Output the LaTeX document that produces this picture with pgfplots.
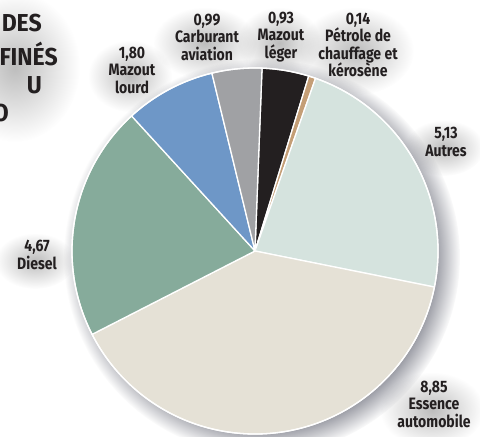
\documentclass[border=0pt]{standalone}
\usepackage{pgfplots}
\pgfplotsset{compat=1.18}
\usepackage{pgfplotstable}
\usetikzlibrary{fadings}
\usepackage{fontspec}
\setmainfont{Fira Sans}[FakeStretch=0.85]
\newfontfamily\titlefont{Fira Sans}[FakeStretch=0.94]

\definecolor{txt}{RGB}{35,31,32}
\definecolor{cleger}{RGB}{35,31,32}
\definecolor{cpetrole}{RGB}{196,158,118}
\definecolor{cautres}{RGB}{213,227,222}
\definecolor{cessence}{RGB}{229,225,214}
\definecolor{cdiesel}{RGB}{134,171,155}
\definecolor{clourd}{RGB}{110,151,199}
\definecolor{caviation}{RGB}{160,161,164}
\definecolor{shd}{RGB}{112,114,126}

\pgfdeclareradialshading{pieF}{\pgfpoint{0bp}{0bp}}{color(0bp)=(pgftransparent!0); color(20.5bp)=(pgftransparent!0); color(25bp)=(pgftransparent!100); color(50bp)=(pgftransparent!100)}
\pgfdeclarefading{pief}{\pgfuseshading{pieF}}
\tikzfading[name=glowf, inner color=transparent!74, outer color=transparent!100]

\pgfplotstableread{
value
0.93
0.14
5.13
8.85
4.67
1.80
0.99
}\pietable

\pgfplotstablegetelem{0}{value}\of\pietable\let\vA\pgfplotsretval
\pgfplotstablegetelem{1}{value}\of\pietable\let\vB\pgfplotsretval
\pgfplotstablegetelem{2}{value}\of\pietable\let\vC\pgfplotsretval
\pgfplotstablegetelem{3}{value}\of\pietable\let\vD\pgfplotsretval
\pgfplotstablegetelem{4}{value}\of\pietable\let\vE\pgfplotsretval
\pgfplotstablegetelem{5}{value}\of\pietable\let\vF\pgfplotsretval
\pgfplotstablegetelem{6}{value}\of\pietable\let\vG\pgfplotsretval
\pgfmathsetmacro\total{\vA+\vB+\vC+\vD+\vE+\vF+\vG}
\pgfmathsetmacro\aA{87.8}
\pgfmathsetmacro\aB{\aA-\vA/\total*360}
\pgfmathsetmacro\aC{\aB-\vB/\total*360}
\pgfmathsetmacro\aD{\aC-\vC/\total*360}
\pgfmathsetmacro\aE{\aD-\vD/\total*360}
\pgfmathsetmacro\aF{\aE-\vE/\total*360}
\pgfmathsetmacro\aG{\aF-\vF/\total*360}
\pgfmathsetmacro\aH{\aG-\vG/\total*360}

\newcommand\slice[3]{\fill[#3, draw=white, line width=1.3pt, line join=round] (axis cs:255,186) -- ++(#1:183pt) arc[start angle=#1, end angle=#2, radius=183pt] -- cycle;}
\newcommand\glow[4]{\fill[black, path fading=glowf] (axis cs:#1,#2) ellipse[x radius=#3pt, y radius=#4pt];}

\begin{document}%
\begin{tikzpicture}
\begin{axis}[scale only axis, width=480pt, height=437pt,
  xmin=0, xmax=480, ymin=0, ymax=437, hide axis, clip=true,
  xtick=\empty, ytick=\empty]
\addplot[draw=none] coordinates {(0,0) (480,437)};
\coordinate (bbsw) at (axis cs:0,0);
\coordinate (bbne) at (axis cs:480,437);
% glows behind labels
\glow{205}{394}{52}{36}
\glow{279}{394}{42}{36}
\glow{356}{386}{58}{44}
\glow{130}{361}{42}{36}
\glow{444}{289}{40}{28}
\glow{35}{176}{40}{28}
\glow{432}{27}{52}{38}
\glow{15}{370}{65}{75}
% pie shadow
\fill[shd, path fading=pief] (axis cs:262,180) circle[radius=198pt];
% slices
\slice{\aA}{\aB}{cleger}
\slice{\aB}{\aC}{cpetrole}
\slice{\aC}{\aD}{cautres}
\slice{\aD}{\aE}{cessence}
\slice{\aE}{\aF}{cdiesel}
\slice{\aF}{\aG}{clourd}
\slice{\aG}{\aH}{caviation}
\draw[white, line width=1.3pt] (axis cs:255,186) circle[radius=183pt];
% labels
\begin{scope}[every node/.style={align=center, text=txt, inner sep=0pt,
   font=\fontsize{16.5}{17.5}\selectfont\bfseries}]
\node at (axis cs:207,400) {0,99\\Carburant\\aviation};
\node at (axis cs:281,400) {0,93\\Mazout\\léger};
\node at (axis cs:358,392) {0,14\\Pétrole de\\chauffage et\\kérosène};
\node at (axis cs:132,367) {1,80\\Mazout\\lourd};
\node at (axis cs:446,295) {5,13\\Autres};
\node at (axis cs:37,182) {4,67\\Diesel};
\node at (axis cs:434,33) {8,85\\Essence\\automobile};
\end{scope}
% title (cut at the left edge)
\begin{scope}[every node/.style={anchor=base east, text=txt, inner sep=0pt,
   font=\titlefont\fontsize{24.5}{29}\selectfont\bfseries}]
\node at (axis cs:42,405) {DES};
\node at (axis cs:58,371) {FINÉS};
\node at (axis cs:42,343) {U};
\node at (axis cs:9,315) {O};
\end{scope}
\end{axis}
\pgfresetboundingbox
\path[use as bounding box] (bbsw) rectangle (bbne);
\end{tikzpicture}%
\end{document}
